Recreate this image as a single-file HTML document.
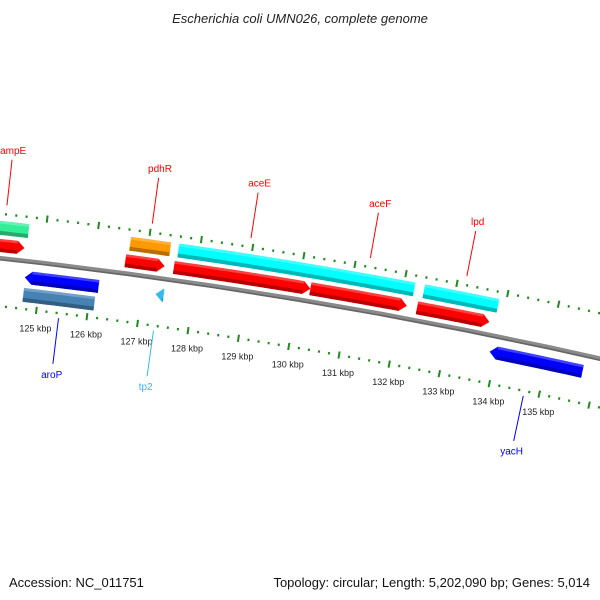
<!DOCTYPE html>
<html><head><meta charset="utf-8"><title>Escherichia coli UMN026 genome map</title>
<style>
html,body{margin:0;padding:0;background:#fff;}
svg{display:block;font-family:"Liberation Sans","DejaVu Sans",sans-serif;}
</style></head>
<body>
<svg id="map" width="600" height="600" viewBox="0 0 600 600" xmlns="http://www.w3.org/2000/svg">
<rect width="600" height="600" fill="#fff"/>
<text x="300" y="23" text-anchor="middle" font-size="13" font-style="italic" fill="#222">Escherichia coli UMN026, complete genome</text>
<text x="9" y="587" font-size="13" fill="#111">Accession: NC_011751</text>
<text x="590" y="587" text-anchor="end" font-size="13" fill="#111">Topology: circular; Length: 5,202,090 bp; Genes: 5,014</text>
<g id="layer"></g>
</svg>
<script>
// ---- data ----
const geneNames  = ["ampE-cds","ampE","pdhR-gene","pdhR","aceE-gene","aceE","aceF-gene","aceF","lpd-gene","lpd","aroP","aroP-gene","tp2","yacH"];
const geneStart  = [123.0,123.0,126.65,126.6,127.59,127.55,130.29,130.23,132.40,132.33,124.70,124.71,127.27,133.88];
const geneEnd    = [124.67,124.63,127.43,127.37,130.29,130.23,132.21,132.13,133.86,133.76,126.15,126.11,127.43,135.73];
const geneStrand = [0,1,0,1,0,1,0,1,0,1,-1,0,-1,-1];
const geneTrack  = ["outer","inner","outer","inner","outer","inner","outer","inner","outer","inner","low1","low2","low1","low1"];
const geneColor  = ["#33ee99","#ff0000","#ff9900","#ff0000","#00ffff","#ff0000","#00ffff","#ff0000","#00ffff","#ff0000","#0000ff","#4682b4","#33bbee","#0000ff"];

const labelText  = ["ampE","pdhR","aceE","aceF","lpd","aroP","tp2","yacH"];
const labelKbp   = [124.2,127.02,128.94,131.27,133.16,125.45,127.33,134.7];
const labelSide  = [1,1,1,1,1,-1,-1,-1];
const labelColor = ["#ff0000","#ff0000","#ff0000","#ff0000","#ff0000","#0000ff","#33bbee","#0000ff"];

const tickFirst = 123, tickLast = 137;
const tickLabels = ["125 kbp","126 kbp","127 kbp","128 kbp","129 kbp","130 kbp","131 kbp","132 kbp","133 kbp","134 kbp","135 kbp"];
const tickLabelKbp = [125,126,127,128,129,130,131,132,133,134,135];

// ---- geometry ----
const R = 5500, a0 = Math.atan(0.1187), P0 = [42, 262.8], dB = 51.45 / R;
const C = [P0[0] - R * Math.sin(a0), P0[1] + R * Math.cos(a0)];
function pt(k, o) { const b = a0 + (k - 125) * dB; return [C[0] + (R + o) * Math.sin(b), C[1] - (R + o) * Math.cos(b)]; }
const tracks = { outer: [23, 37], inner: [6, 19], low1: [-23, -10], low2: [-41, -27] };
const NS = "http://www.w3.org/2000/svg";
const layer = document.getElementById("layer");
function mk(tag, attrs) { const e = document.createElementNS(NS, tag); for (const a in attrs) e.setAttribute(a, attrs[a]); return e; }
function P(list) { return list.map(p => p[0].toFixed(2) + "," + p[1].toFixed(2)).join(" "); }
function edge(k1, k2, o) { const n = 12, r = []; for (let i = 0; i <= n; i++) r.push(pt(k1 + (k2 - k1) * i / n, o)); return r; }
function shade(hex, f) { const n = parseInt(hex.slice(1), 16); let r = n >> 16, g = (n >> 8) & 255, b = n & 255; r = Math.round(r * f); g = Math.round(g * f); b = Math.round(b * f); return "rgb(" + r + "," + g + "," + b + ")"; }

// backbone
const bb = mk("polygon", { points: P(edge(120, 140, 2.2).concat(edge(120, 140, -2.4).reverse())), fill: "#8a8a8a" });


layer.appendChild(bb);
const bb2 = mk("polygon", { points: P(edge(120, 140, -0.8).concat(edge(120, 140, -2.4).reverse())), fill: "#666" });


layer.appendChild(bb2);

// rulers
[44, -48].forEach((ro, ri) => {
  for (let t = tickFirst * 5; t <= tickLast * 5; t++) {
    const k = t / 5, major = (t % 5 === 0), h = major ? 3.6 : 1.2;
    const a = pt(k, ro + h), b = pt(k, ro - h);
    const ln = mk("line", { x1: a[0], y1: a[1], x2: b[0], y2: b[1], stroke: "#1f8a1f", "stroke-width": 2 });
    
    
    layer.appendChild(ln);
  }
});
tickLabels.forEach((s, i) => {
  const p = pt(tickLabelKbp[i], -48);
  const tx = mk("text", { x: p[0] - 1, y: p[1] + 21, "text-anchor": "middle", "font-size": 9, fill: "#222" });
  tx.textContent = s;
  
  
  layer.appendChild(tx);
});

// genes
geneNames.forEach((nm, i) => {
  const [o1, o2] = tracks[geneTrack[i]];
  const s = geneStart[i], e = geneEnd[i], d = geneStrand[i], ah = 0.14, om = (o1 + o2) / 2;
  let pts;
  if (d === 1) pts = edge(s, e - ah, o2).concat([pt(e - ah, o2), pt(e, om), pt(e - ah, o1)]).concat(edge(s, e - ah, o1).reverse());
  else if (d === -1) pts = [pt(s, om)].concat(edge(s + ah, e, o2)).concat(edge(s + ah, e, o1).reverse());
  else pts = edge(s, e, o2).concat(edge(s, e, o1).reverse());
  const g = mk("g", {});
  
  
  const base = mk("polygon", { points: P(pts), fill: geneColor[i] });
  
  
  g.appendChild(base);
  const s2 = d === -1 ? s + ah : s, e2 = d === 1 ? e - ah : e, h = (o2 - o1);
  const dark = mk("polygon", { points: P(edge(s2, e2, o1 + h * 0.28).concat(edge(s2, e2, o1).reverse())), fill: shade(geneColor[i], 0.72) });
  
  
  g.appendChild(dark);
  const lite = mk("polygon", { points: P(edge(s2, e2, o2).concat(edge(s2, e2, o2 - h * 0.2).reverse())), fill: "rgba(255,255,255,0.25)" });
  
  
  g.appendChild(lite);
  layer.appendChild(g);
});

// labels
labelText.forEach((s, i) => {
  const sd = labelSide[i];
  const a = pt(labelKbp[i], sd * 53), b = pt(labelKbp[i], sd * 99), c = pt(labelKbp[i], sd * 109);
  const ln = mk("line", { x1: a[0], y1: a[1], x2: b[0], y2: b[1], stroke: labelColor[i], "stroke-width": 1 });
  
  
  layer.appendChild(ln);
  const tx = mk("text", { x: c[0], y: c[1] + 4, "text-anchor": "middle", "font-size": 10, fill: labelColor[i] });
  tx.textContent = s;
  
  
  layer.appendChild(tx);
});
</script>
</body></html>
